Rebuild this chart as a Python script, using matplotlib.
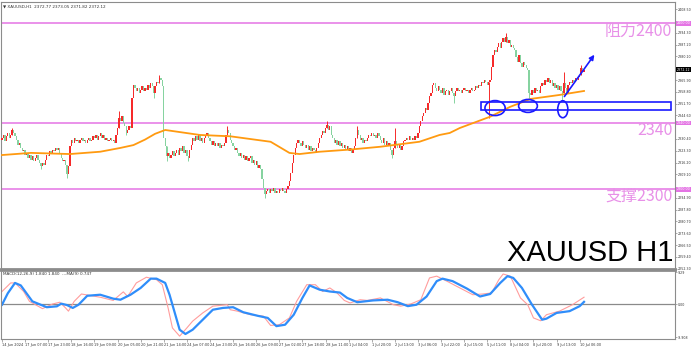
import numpy as np
import matplotlib.pyplot as plt
from matplotlib.patches import Rectangle, Ellipse
from matplotlib import font_manager

# ---- data (H1 bars, index 0 = 14 Jun 14:00) ----
closes = [
    2331, 2333, 2329, 2332, 2334, 2331, 2333, 2336, 2334, 2332,
    2330, 2327, 2328, 2325, 2323, 2324, 2321, 2322, 2319, 2321,
    2318, 2320, 2317, 2319, 2321, 2318, 2316, 2314, 2316, 2315,
    2318, 2321, 2320, 2323, 2322, 2324, 2323, 2325, 2324, 2325,
    2322, 2319, 2317, 2318, 2315, 2309, 2314, 2326, 2330, 2328,
    2331, 2329, 2330, 2328, 2330, 2331, 2329, 2330, 2328, 2330,
    2331, 2329, 2330, 2332, 2331, 2333, 2330, 2332, 2334, 2331,
    2333, 2330, 2331, 2329, 2330, 2331, 2329, 2330, 2328, 2333,
    2337, 2343, 2341, 2344, 2340, 2338, 2334, 2336, 2338, 2337,
    2355, 2363, 2361, 2359, 2361, 2358, 2360, 2362, 2359, 2361,
    2360, 2363, 2361, 2364, 2362, 2358, 2362, 2365, 2364, 2367,
    2366, 2362, 2331, 2326, 2320, 2322, 2319, 2321, 2323, 2320,
    2322, 2324, 2321, 2325, 2323, 2326, 2322, 2324, 2320, 2319,
    2324, 2327, 2331, 2329, 2332, 2330, 2333, 2329, 2331, 2328,
    2331, 2333, 2334, 2331, 2329, 2327, 2329, 2326, 2328, 2326,
    2328, 2325, 2327, 2326, 2328, 2333, 2336, 2334, 2330, 2328,
    2326, 2324, 2325, 2322, 2320, 2322, 2319, 2321, 2318, 2320,
    2317, 2319, 2320, 2316, 2318, 2315, 2317, 2313, 2315, 2312,
    2306, 2301, 2297, 2299, 2300, 2298, 2300, 2299, 2301, 2298,
    2299, 2298, 2300, 2299, 2301, 2299, 2298, 2300, 2302, 2305,
    2310, 2316, 2321, 2325, 2328, 2330, 2328, 2326, 2329, 2327,
    2325, 2327, 2324, 2326, 2323, 2325, 2324, 2322, 2325, 2328,
    2331, 2333, 2335, 2334, 2337, 2339, 2336, 2338, 2333, 2331,
    2328, 2330, 2327, 2329, 2326, 2328, 2325, 2327, 2324, 2326,
    2323, 2325, 2322, 2324, 2326, 2331, 2336, 2333, 2330, 2331,
    2328, 2330, 2329, 2331, 2333, 2332, 2334, 2332, 2333, 2331,
    2334, 2332, 2330, 2328, 2331, 2327, 2329, 2326, 2328, 2324,
    2321, 2325, 2329, 2327, 2325, 2327, 2324, 2326, 2329, 2330,
    2331, 2330, 2332, 2330, 2331, 2330, 2332, 2331, 2334, 2338,
    2341, 2344, 2346, 2349, 2348, 2352, 2356, 2358, 2363, 2364,
    2361, 2359, 2362, 2360, 2358, 2361, 2357, 2359, 2360, 2357,
    2359, 2361, 2358, 2356, 2359, 2361, 2359, 2360, 2358, 2360,
    2361, 2359, 2360, 2358, 2360, 2361, 2359, 2360, 2362, 2361,
    2363, 2362, 2365, 2364, 2366, 2365, 2363, 2365, 2366, 2374,
    2381, 2384, 2383, 2386, 2388, 2385, 2389, 2391, 2389, 2392,
    2388, 2390, 2386, 2387, 2385, 2384, 2380, 2377, 2381, 2376,
    2374, 2377, 2375, 2373, 2372, 2358, 2357, 2360, 2358, 2361,
    2359, 2360, 2358, 2362, 2364, 2363, 2366, 2365, 2367, 2364,
    2366, 2362, 2364, 2361, 2363, 2360, 2362, 2359, 2358, 2364,
    2361, 2358, 2363, 2365, 2364, 2366, 2365, 2367, 2366, 2368,
    2369, 2373, 2371, 2372,
]
first_open = 2330

# visible wicks (bar: (low, high))
wicks = {7: (2333, 2337), 27: (2312, 2316), 45: (2307, 2315), 81: (2337, 2347),
         86: (2333, 2338), 105: (2355, 2362), 109: (2364, 2369), 114: (2317, 2326),
         129: (2317, 2320), 156: (2333, 2338), 182: (2295, 2301), 225: (2337, 2341),
         246: (2331, 2338), 270: (2319, 2324), 272: (2325, 2337), 313: (2352, 2358),
         337: (2343, 2365), 349: (2389, 2394), 365: (2355, 2372), 388: (2354, 2359),
         389: (2358, 2371), 401: (2369, 2375)}

# moving average (bar, value)
ma_bar = [0, 20, 47, 68, 82, 91, 99, 106, 113, 137, 158, 186, 199, 206, 220, 241,
          262, 289, 303, 310, 317, 338, 352, 366, 386, 403]
ma_val = [2320.7, 2322.0, 2321.3, 2322.7, 2325.0, 2326.7, 2330.0, 2333.5, 2335.8,
          2332.8, 2332.0, 2328.7, 2322.0, 2321.3, 2322.7, 2324.0, 2325.7, 2328.7,
          2332.8, 2334.0, 2337.0, 2343.8, 2349.8, 2354.5, 2356.9, 2359.3]

# MACD panel (bar, value)
sig_bar = [0, 4, 9, 13, 21, 31, 38, 41, 45, 49, 53, 59, 68, 77, 82, 89, 96, 103, 107,
           113, 116, 120, 123, 127, 132, 139, 146, 153, 160, 167, 177, 184, 190, 196,
           202, 208, 213, 220, 227, 234, 239, 246, 257, 267, 274, 281, 287, 294, 301,
           305, 312, 322, 331, 338, 345, 350, 354, 360, 367, 374, 377, 384, 393, 400, 403]
sig_val = [-0.2, 3.0, 5.9, 5.2, 0.75, -0.9, -0.65, 0.1, -0.3, -1.1, -0.2, 2.3, 2.6, 1.5,
           1.2, 2.6, 4.5, 7.1, 7.1, 5.9, 2.6, -3.0, -7.2, -8.4, -7.2, -4.4, -1.6, -1.1,
           -0.9, -2.3, -3.3, -3.9, -6.2, -5.8, -3.0, 1.7, 5.2, 4.0, 3.5, 3.2, 1.7, 0.5,
           1.0, 1.2, 0.5, -0.6, -0.2, 2.1, 6.4, 7.1, 6.4, 4.3, 2.1, 2.8, 5.9, 7.8, 7.3,
           4.5, -0.2, -4.4, -4.1, -2.5, -2.0, -0.6, 0.6]
macd_bar = [0, 6, 9, 15, 19, 28, 35, 40, 44, 46, 50, 55, 68, 77, 84, 87, 93, 100, 107,
            111, 115, 118, 123, 128, 132, 139, 146, 156, 158, 163, 172, 181, 186, 192,
            199, 204, 211, 217, 222, 227, 232, 237, 241, 248, 253, 262, 271, 276, 283,
            290, 296, 301, 308, 317, 326, 333, 339, 344, 347, 352, 359, 364, 368, 373,
            377, 386, 395, 403]
macd_val = [3.5, 5.9, 5.9, 3.5, 0.75, -1.3, 0.0, 0.5, -1.1, -2.0, 0.75, 2.8, 1.9, 1.0,
            3.4, 2.1, 5.9, 7.5, 6.8, 5.4, -1.1, -6.7, -9.0, -6.7, -4.8, -2.5, -0.6, -0.2,
            -1.6, -2.0, -3.0, -3.4, -6.0, -5.8, -3.9, 0.75, 5.4, 5.4, 3.5, 4.5, 3.1, 1.0,
            0.3, 1.2, 1.0, 1.7, -0.2, -0.6, 0.0, 1.2, 7.3, 7.8, 6.4, 4.5, 2.6, 2.8, 3.1,
            6.8, 8.4, 7.8, 1.7, -0.2, -3.9, -4.7, -3.0, -2.0, -0.2, 1.9]

levels = [2400, 2340, 2300]
level_text = ["阻力2400", "2340", "支撑2300"]
level_text_y = [2395.4, 2335.2, 2296.0]
last_price = 2372.12

tick_bars = [0] + list(range(16, 401, 16))
tick_text = ["14 Jun 2024", "17 Jun 07:00", "17 Jun 23:00", "18 Jun 16:00", "19 Jun 09:00",
             "20 Jun 05:00", "20 Jun 21:00", "21 Jun 14:00", "24 Jun 07:00", "24 Jun 23:00",
             "25 Jun 16:00", "26 Jun 09:00", "27 Jun 02:00", "27 Jun 18:00", "28 Jun 11:00",
             "1 Jul 04:00", "1 Jul 20:00", "2 Jul 13:00", "3 Jul 06:00", "3 Jul 22:00",
             "4 Jul 15:00", "5 Jul 11:00", "8 Jul 04:00", "8 Jul 20:00", "9 Jul 13:00",
             "10 Jul 06:00"]
price_ticks = [2252.3, 2259.4, 2266.5, 2273.6, 2280.7, 2287.8, 2294.9, 2309.1,
               2316.2, 2323.3, 2330.4, 2344.6, 2351.7, 2358.8, 2365.9,
               2380.1, 2387.2, 2394.3, 2408.5]

# narrow face for the big symbol label if it is installed
names = {f.name for f in font_manager.fontManager.ttflist}
big_font = "Liberation Sans Narrow" if "Liberation Sans Narrow" in names else "Liberation Sans"
big_size = 25.5 if big_font == "Liberation Sans Narrow" else 21

# ---- figure ----
W, H = 692, 348
fig = plt.figure(figsize=(W / 100, H / 100), dpi=100)
ax = fig.add_axes([1 / W, 1 - 269 / H, 674 / W, 267 / H])
ax2 = fig.add_axes([1 / W, 1 - 339 / H, 674 / W, 69 / H])

grey = "#8c8c8c"
for a in (ax, ax2):
    for s in a.spines.values():
        s.set_color(grey)
        s.set_linewidth(0.8)
    a.set_xlim(-0.7, 466)
ax.spines["bottom"].set_linewidth(2.0)
ax2.spines["top"].set_linewidth(2.0)

c = np.array(closes, dtype=float)
o = np.concatenate([[first_open], c[:-1]])
x = np.arange(len(c))
up = c >= o
body = np.where(np.abs(c - o) < 0.5, 0.5, c - o)
red, green = "#f62a2a", "#86d3a0"
for idx, (lo, hi) in wicks.items():
    ax.vlines(idx, lo, hi, color=red if up[idx] else green, lw=0.7, zorder=2)
ax.bar(x[up], body[up], bottom=o[up], width=0.9, color=red, lw=0, zorder=3)
ax.bar(x[~up], body[~up], bottom=o[~up], width=0.9, color=green, lw=0, zorder=3)

ax.plot(ma_bar, ma_val, color="#ff9a10", lw=1.3, zorder=4)

lvl_col = "#e474e4"
for lv in levels:
    ax.axhline(lv, color=lvl_col, lw=1.1, zorder=1)

yt = ax.get_yaxis_transform()
for txt, ty in zip(level_text, level_text_y):
    ax.text(0.996, ty, txt, transform=yt, ha="right", va="center", fontsize=11.5,
            color="#e890e8", family=["Noto Sans CJK SC", "DejaVu Sans"])
ax.text(0.997, 0.03, "XAUUSD H1", transform=ax.transAxes, ha="right", va="baseline",
        fontsize=big_size, color="black", family=big_font)

# blue annotations
blue = "#1a1aff"
ax.add_patch(Rectangle((332, 2347.8), 131, 5.0, fill=False, ec=blue, lw=1.2, zorder=5))
for cx, cy, w, h in [(341.4, 2349.0, 14, 9.0), (364.2, 2350.3, 13, 7.8), (388.3, 2348.3, 7, 10.2)]:
    ax.add_patch(Ellipse((cx, cy), w, h, fill=False, ec=blue, lw=1.2, zorder=5))
ax.annotate("", xy=(411.3, 2382.5), xytext=(388.3, 2354.6),
            arrowprops=dict(arrowstyle="-|>", color=blue, lw=1.2, mutation_scale=7), zorder=5)

# right price axis
ax.set_ylim(2252.05, 2412.9)
ax.yaxis.tick_right()
ax.set_yticks(price_ticks)
ax.set_yticklabels([f"{p:.2f}" for p in price_ticks])
ax.tick_params(axis="y", labelsize=2.3, length=1.5, width=0.5, color=grey, pad=0.8, labelcolor="#333333")
ax.set_xticks([])
for lv in levels:
    ax.text(1.0025, lv, f"{lv:.2f}", transform=yt, fontsize=2.3, color="white", va="center",
            ha="left", bbox=dict(boxstyle="square,pad=0.15", fc=lvl_col, ec="none"))
ax.text(1.0025, last_price, f"{last_price:.2f}", transform=yt, fontsize=2.3, color="white",
        va="center", ha="left", bbox=dict(boxstyle="square,pad=0.15", fc="black", ec="none"))
ax.text(0.003, 0.992, "▼ XAUUSD,H1  2372.77 2373.05 2371.82 2372.12", transform=ax.transAxes,
        fontsize=3.0, color="#333333", va="top", ha="left")

# MACD
ax2.axhline(0, color="#8a8a8a", lw=0.9)
ax2.plot(macd_bar, macd_val, color="#ff9c9c", lw=0.8)
ax2.plot(sig_bar, sig_val, color="#2f8dfa", lw=1.6)
ax2.set_ylim(-9.8, 9.52)
ax2.yaxis.tick_right()
ax2.set_yticks([8.9, 0, -9.3])
ax2.set_yticklabels(["9.29", "0.00", "-9.908"])
ax2.tick_params(axis="y", labelsize=2.3, length=1.5, width=0.5, color=grey, pad=0.8, labelcolor="#333333")
ax2.text(0.003, 0.97, "MACD(12,26,9) 1.840 1.840  ---MA(9) 0.747", transform=ax2.transAxes,
         fontsize=3.0, color="#333333", va="top", ha="left")
ax2.set_xticks(tick_bars)
ax2.set_xticklabels(tick_text, ha="left")
ax2.tick_params(axis="x", labelsize=2.5, length=2, width=0.5, color=grey, pad=1, labelcolor="#333333")

fig.savefig("out.png", dpi=100)
